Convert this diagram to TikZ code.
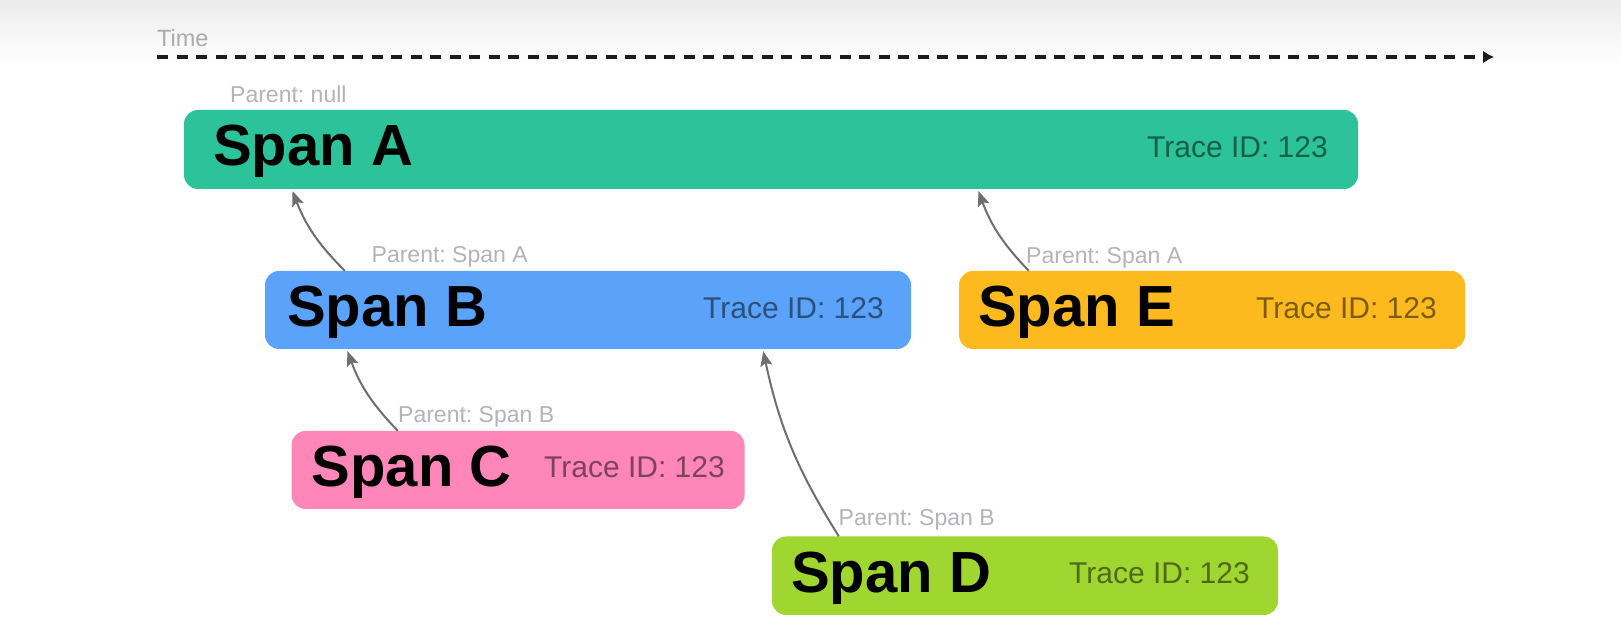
\documentclass[tikz,border=0pt]{standalone}
\usepackage{fontspec}
\setmainfont{Liberation Sans}
\usetikzlibrary{arrows.meta}
\definecolor{cA}{HTML}{2CC29A}
\definecolor{cB}{HTML}{5AA2FA}
\definecolor{cC}{HTML}{FF86B8}
\definecolor{cD}{HTML}{A0D630}
\definecolor{cE}{HTML}{FDBA1F}
\definecolor{lbl}{HTML}{B4B4B8}
\definecolor{timec}{HTML}{ABABAB}
\definecolor{arrc}{HTML}{6E6E6E}
\definecolor{linec}{HTML}{1C1C1C}
\frenchspacing
\begin{document}
\begin{tikzpicture}[x=1pt,y=1pt,
  spanbox/.style={rounded corners=14pt, inner sep=0pt, draw=none},
  spantitle/.style={anchor=base west, inner sep=0pt, font=\fontsize{58}{60}\selectfont\bfseries, text=black},
  traceid/.style={anchor=base east, inner sep=0pt, font=\fontsize{30}{32}\selectfont, text=black, text opacity=0.5},
  parentlbl/.style={anchor=base west, inner sep=0pt, font=\fontsize{23}{25}\selectfont, text=lbl},
  link/.style={draw=arrc, line width=2pt, -{Stealth[length=15pt,width=12pt,inset=3pt]}, shorten >=2pt}
]
\useasboundingbox (0,0) rectangle (1621,636);
\fill[white] (0,0) rectangle (1621,636);
\shade[top color=gray!15, bottom color=white] (0,571) rectangle (1621,636);

% time axis
\node[anchor=base west, inner sep=0pt, font=\fontsize{23.5}{25}\selectfont, text=timec] (time) at (157,589) {Time};
\coordinate (t0) at (157,579);
\coordinate (t1) at (1494,579);
\draw[linec, line width=3.4pt, dash pattern=on 11pt off 8.5pt, -{Latex[length=11pt,width=13pt]}] (t0) -- (t1);

% boxes
\node[spanbox, fill=cA, minimum width=1174pt, minimum height=79pt] (A) at (771,486.5) {};
\node[spanbox, fill=cB, minimum width=646pt, minimum height=78pt] (B) at (588,326) {};
\node[spanbox, fill=cE, minimum width=506pt, minimum height=78pt] (E) at (1212,326) {};
\node[spanbox, fill=cC, minimum width=453pt, minimum height=78pt] (C) at (518,166) {};
\node[spanbox, fill=cD, minimum width=506pt, minimum height=78.5pt] (D) at (1025,60.25) {};

% titles
\node[spantitle] (tA) at (213,470) {Span A};
\node[spantitle] (tB) at (287,309.5) {Span B};
\node[spantitle] (tE) at (978,309.5) {Span E};
\node[spantitle] (tC) at (311.5,149.5) {Span C};
\node[spantitle] (tD) at (791,43.5) {Span D};

% trace ids
\node[traceid] (iA) at (1328,478.5) {Trace ID: 123};
\node[traceid] (iB) at (884,317.5) {Trace ID: 123};
\node[traceid] (iE) at (1437,317.5) {Trace ID: 123};
\node[traceid] (iC) at (725,158) {Trace ID: 123};
\node[traceid] (iD) at (1250,52) {Trace ID: 123};

% parent labels
\node[parentlbl] (pA) at (230,533) {Parent: null};
\node[parentlbl] (pB) at (371.5,373) {Parent: Span A};
\node[parentlbl] (pE) at (1026,372) {Parent: Span A};
\node[parentlbl] (pC) at (398,213) {Parent: Span B};
\node[parentlbl] (pD) at (838.5,110) {Parent: Span B};

% links
\draw[link] ([xshift=80pt]B.north west) to[bend left=12] ([xshift=108pt]A.south west);
\draw[link] ([xshift=70pt]E.north west) to[bend left=12] ([xshift=794pt]A.south west);
\draw[link] ([xshift=106.5pt]C.north west) to[bend left=12] ([xshift=82pt]B.south west);
\draw[link] ([xshift=67pt]D.north west) to[bend left=10] ([xshift=498pt]B.south west);
\end{tikzpicture}
\end{document}
